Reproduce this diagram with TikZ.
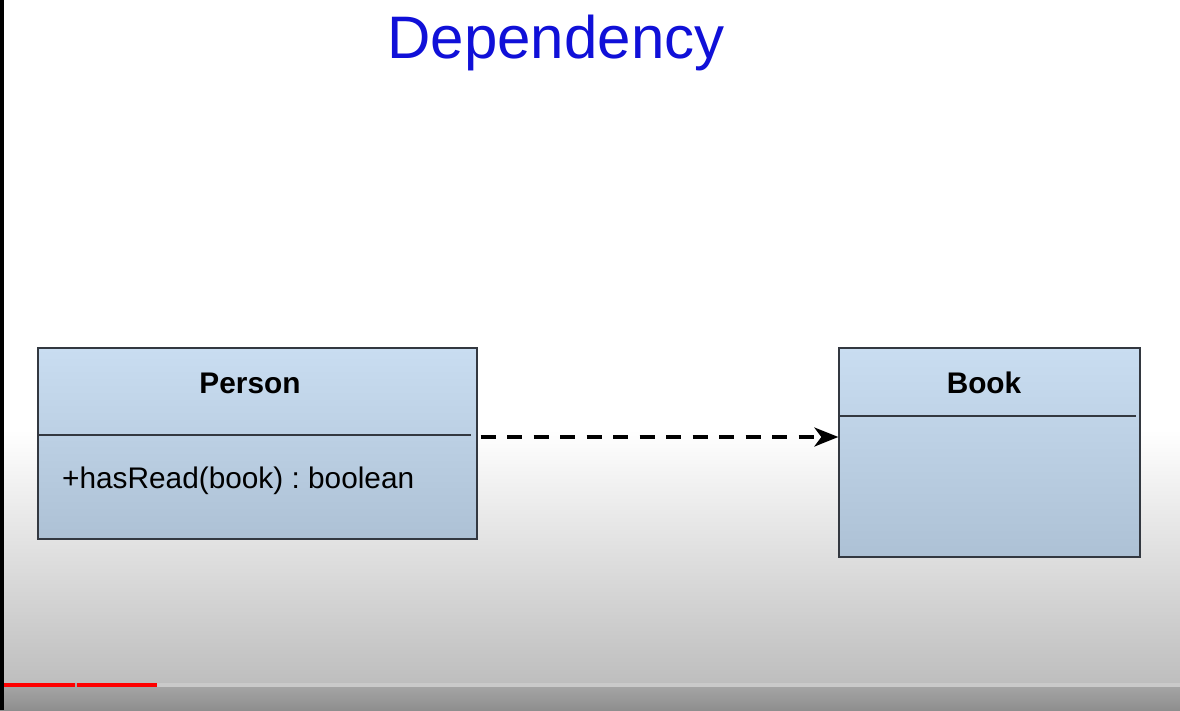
\documentclass[tikz,border=0pt]{standalone}
\usepackage{fontspec}
\setmainfont{Liberation Sans}
\usetikzlibrary{arrows.meta}
\frenchspacing
\definecolor{titleblue}{HTML}{1010D8}
\definecolor{boxtop}{HTML}{C9DDF1}
\definecolor{boxbot}{HTML}{ADC1D5}
\definecolor{boxline}{HTML}{333840}
\definecolor{bgbot}{HTML}{BEBEBE}
\definecolor{barbg}{HTML}{A8A8A8}
\definecolor{barbot}{HTML}{8E8E8E}
\definecolor{ytred}{HTML}{FF0000}
\definecolor{seggray}{HTML}{CACACA}
\tikzset{
  umlbox/.style={rectangle, draw=boxline, line width=1.3pt, top color=boxtop, bottom color=boxbot, inner sep=0pt},
  divider/.style={draw=boxline, line width=1.3pt},
  classname/.style={font=\bfseries\fontsize{29.8}{35}\selectfont, anchor=base, inner sep=0pt},
  member/.style={font=\fontsize{29.8}{35}\selectfont, anchor=base west, inner sep=0pt},
  titletext/.style={font=\fontsize{60}{68}\selectfont, text=titleblue, anchor=base, inner sep=0pt},
  dep/.style={line width=3.5pt, dash pattern=on 15pt off 11.5pt, -{Stealth[length=24pt,width=19pt,inset=7pt]}}
}
\begin{document}
\begin{tikzpicture}[x=1pt,y=-1pt]
\useasboundingbox (0,0) rectangle (1180,710);
% background
\fill[white] (0,0) rectangle (1180,710);
\shade[top color=white, bottom color=bgbot] (0,430) rectangle (1180,683);
\shade[top color=barbg, bottom color=barbot] (0,683) rectangle (1180,710);
\fill[seggray] (157,683) rectangle (1180,687);
\fill[ytred] (0,683) rectangle (75,687);
\fill[ytred] (77,683) rectangle (157,687);
\fill[black] (0,0) rectangle (4,710);
% title
\node[titletext] (title) at (556,58) {Dependency};
% Person class
\node[umlbox, minimum width=439pt, minimum height=191pt] (person) at (257.5,443.5) {};
\draw[divider] (38,435) -- (471,435);
\node[classname] (pname) at (250,393) {Person};
\node[member] (pmeth) at (62,488) {+hasRead(book) : boolean};
% Book class
\node[umlbox, minimum width=301pt, minimum height=209pt] (book) at (989.5,452.5) {};
\draw[divider] (839,416) -- (1136,416);
\node[classname] (bname) at (984,393) {Book};
% dependency
\draw[dep] ([xshift=3pt,yshift=6.5pt]person.east) -- ([yshift=15.5pt]book.west);
\end{tikzpicture}
\end{document}
